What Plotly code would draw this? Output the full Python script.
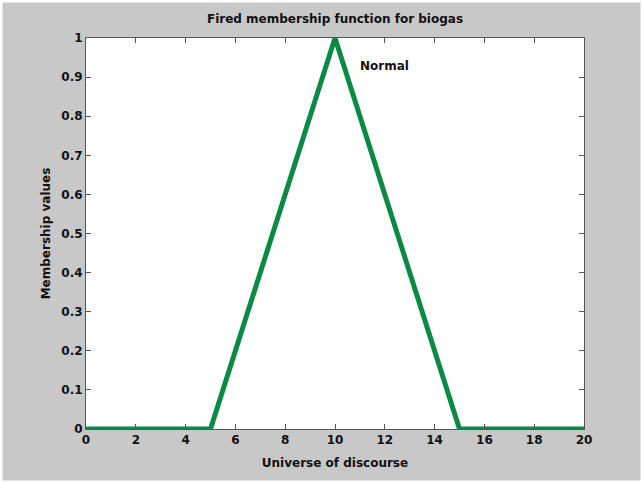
import plotly.graph_objects as go

x_vals = [0, 5, 10, 15, 20]
y_vals = [0, 0, 1, 0, 0]
x_ticks = [0, 2, 4, 6, 8, 10, 12, 14, 16, 18, 20]
y_ticks = [0, 0.1, 0.2, 0.3, 0.4, 0.5, 0.6, 0.7, 0.8, 0.9, 1]
y_tick_text = ["0", "0.1", "0.2", "0.3", "0.4", "0.5", "0.6", "0.7", "0.8", "0.9", "1"]
label_text = "Normal"
label_x = 12.0
label_y = 0.928

W, H = 643, 483
L, R, T, B = 86, 59, 38, 54
pw, ph = W - L - R, H - T - B

font = dict(family="DejaVu Sans, Arial, sans-serif", size=12, color="#111111")

fig = go.Figure()
fig.add_trace(go.Scatter(x=x_vals, y=y_vals, mode="lines",
                         line=dict(color="#0b8a45", width=5), hoverinfo="skip"))

fig.add_annotation(x=label_x, y=label_y, text="<b>" + label_text + "</b>", showarrow=False,
                   font=font, xanchor="center", yanchor="middle")

# thin white outer border around the grey figure background
fig.add_shape(type="rect", xref="paper", yref="paper", layer="above",
              x0=-L / pw, x1=(W - L) / pw,
              y0=-B / ph, y1=1 + T / ph,
              fillcolor="rgba(0,0,0,0)", line=dict(width=5, color="white"))

axis_common = dict(showline=True, linecolor="#555555", linewidth=1, mirror="ticks",
                   ticks="inside", ticklen=5, tickcolor="#555555", showgrid=False,
                   zeroline=False, automargin=False,
                   tickfont=dict(family=font["family"], size=12, color="#111111"))

fig.update_xaxes(range=[0, 20], tickvals=x_ticks, ticktext=["<b>%d</b>" % v for v in x_ticks],
                 title=dict(text="<b>Universe of discourse</b>", font=font, standoff=12),
                 **axis_common)
fig.update_yaxes(range=[0, 1], tickvals=y_ticks, ticktext=["<b>%s</b>" % t for t in y_tick_text],
                 title=dict(text="<b>Membership values</b>", font=font, standoff=8),
                 **axis_common)

fig.update_layout(
    width=W, height=H, autosize=False,
    margin=dict(l=L, r=R, t=T, b=B, autoexpand=False),
    paper_bgcolor="#c8c8c8", plot_bgcolor="white",
    showlegend=False,
    title=dict(text="<b>Fired membership function for biogas</b>", font=font,
               x=(L + pw / 2) / W, xanchor="center", y=1 - 19 / H, yanchor="middle",
               yref="container", xref="container"),
)

fig.write_html("out.html", config={"displayModeBar": False},
               post_script="document.body.style.margin='0';")
